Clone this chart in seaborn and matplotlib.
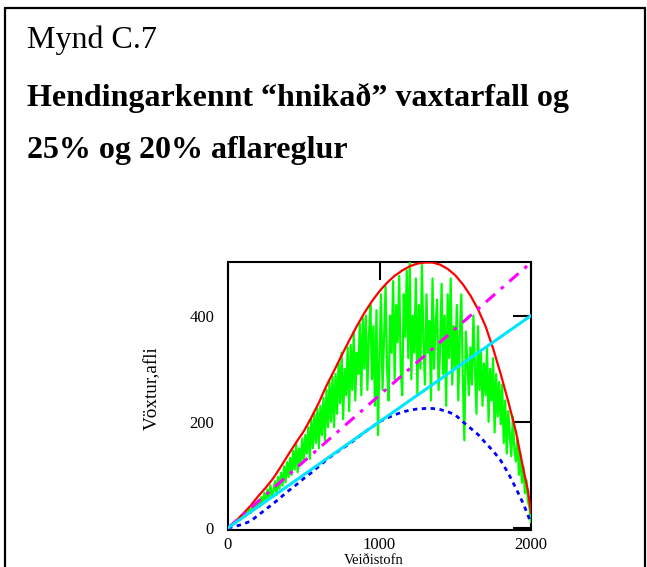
import numpy as np
import pandas as pd
import matplotlib
matplotlib.use("Agg")
import matplotlib.pyplot as plt
from matplotlib.lines import Line2D
import seaborn as sns

# Stock grid for the smooth curves
stock = [0, 50, 100, 150, 200, 250, 300, 350, 400, 450, 500, 550, 600, 650, 700,
         750, 800, 850, 900, 950, 1000, 1050, 1100, 1150, 1200, 1250, 1300, 1350,
         1400, 1450, 1500, 1550, 1600, 1650, 1700, 1750, 1800, 1850, 1900, 1950,
         1980, 2000]

# Growth function (upper envelope)
growth_max = [0, 12, 27, 42, 60, 76, 94, 116, 139, 161, 182, 208, 236, 268, 296,
              325, 353, 380, 405, 427, 446, 462, 475, 485, 493, 498, 500, 500,
              496, 488, 476, 459, 438, 412, 380, 338, 290, 238, 182, 110,
              70, 28]

# Lower growth curve
growth_min = [0, 3, 7, 13, 24, 35, 46, 58, 70, 81, 93, 104, 116, 128, 139,
              149, 158, 169, 180, 190, 200, 207, 213, 218, 222, 224, 225, 225,
              223, 219, 213, 200, 188, 176, 160, 145, 127, 103, 75, 45,
              24, 8]

# Catch rules: 25% and 20% of stock
rule_stock = [0, 2000]
catch_25 = [0, 500]
catch_20 = [0, 400]

# Randomly perturbed growth, every 10 units of stock
noisy_stock = np.arange(0, 2001, 10)
noisy_growth = [
    0, 3, 4, 7, 8, 12, 11, 16, 15, 21,
    24, 20, 30, 26, 36, 28, 40, 34, 46, 38,
    52, 40, 58, 46, 66, 50, 72, 56, 80, 60,
    70, 88, 62, 96, 74, 104, 80, 116, 86, 124,
    96, 132, 100, 145, 110, 158, 105, 150, 120, 168,
    125, 175, 140, 190, 130, 205, 150, 215, 160, 225,
    150, 230, 175, 245, 165, 260, 190, 275, 200, 285,
    190, 290, 215, 310, 235, 330, 205, 300, 250, 340,
    220, 345, 260, 370, 240, 330, 290, 385, 250, 395,
    300, 400, 260, 360, 420, 280, 380, 230, 410, 175,
    320, 440, 260, 360, 455, 300, 240, 400, 330, 465,
    280, 420, 350, 475, 300, 250, 440, 360, 485, 320,
    500, 280, 400, 330, 470, 250, 420, 300, 495, 350,
    270, 440, 330, 390, 240, 470, 300, 380, 430, 260,
    340, 460, 290, 400, 230, 440, 320, 470, 270, 380,
    300, 420, 240, 360, 440, 280, 165, 370, 310, 250,
    340, 270, 400, 300, 215, 380, 260, 330, 230, 310,
    250, 340, 200, 300, 240, 320, 180, 290, 210, 275,
    195, 270, 160, 240, 140, 220, 175, 135, 210, 150,
    125, 170, 100, 140, 85, 115, 65, 90, 50, 38,
    10,
]

x_ticks = [0, 1000, 2000]
y_ticks = [0, 200, 400]

sns.set_theme(style="white")
plt.rcParams["font.family"] = ["Liberation Serif", "DejaVu Serif"]
plt.rcParams["text.color"] = "black"
plt.rcParams["axes.labelcolor"] = "black"
plt.rcParams["xtick.color"] = "black"
plt.rcParams["ytick.color"] = "black"

fig = plt.figure(figsize=(6.47, 5.67), dpi=100)
W, H = 647, 567
ax = fig.add_axes([228 / W, (H - 530) / H, 303 / W, 268 / H])

sns.lineplot(x=noisy_stock, y=noisy_growth, ax=ax, color="#00ff00",
             linewidth=1.6, sort=False, estimator=None, zorder=3)
sns.lineplot(x=stock, y=growth_max, ax=ax, color="#ff0000",
             linewidth=1.6, sort=False, estimator=None, zorder=4)
sns.lineplot(x=stock, y=growth_min, ax=ax, color="#0000ff",
             linewidth=2.0, linestyle=(0, (1.6, 1.6)), sort=False,
             estimator=None, zorder=4)
sns.lineplot(x=rule_stock, y=catch_25, ax=ax, color="#ff00ff",
             linewidth=2.2, linestyle=(0, (4.0, 2.5, 1.2, 2.5)), sort=False,
             estimator=None, zorder=5)
sns.lineplot(x=rule_stock, y=catch_20, ax=ax, color="#00e5ff",
             linewidth=2.2, sort=False, estimator=None, zorder=5)

ax.set_xlim(0, 2000)
ax.set_ylim(-4, 501)
ax.set_xticks(x_ticks)
ax.set_yticks(y_ticks)
ax.tick_params(direction="in", length=13, width=1.5, colors="black",
               labelcolor="black", labelsize=12, top=True, right=True,
               labeltop=False, labelright=False)
ax.tick_params(axis="x", pad=5)
ax.tick_params(axis="y", pad=10)
for side in ax.spines.values():
    side.set_color("black")
    side.set_linewidth(1.5)

ax.set_ylabel("Vöxtur,afli", fontsize=13.8)
ax.yaxis.set_label_coords(-0.221, 0.53)
ax.set_xlabel("Veiðistofn", fontsize=10.5)
ax.xaxis.set_label_coords(0.48, -0.089)

# Headings
fig.text(27 / W, (H - 48) / H, "Mynd C.7", fontsize=23, ha="left",
         va="baseline")
fig.text(27 / W, (H - 106) / H, "Hendingarkennt “hnikað” vaxtarfall og",
         fontsize=23, fontweight="bold", ha="left", va="baseline")
fig.text(27 / W, (H - 158) / H, "25% og 20% aflareglur",
         fontsize=23, fontweight="bold", ha="left", va="baseline")

# Border around the figure box
for xs, ys in [([5, 5], [8, 580]), ([645, 645], [8, 580]), ([5, 645], [8, 8])]:
    fig.add_artist(Line2D([x / W for x in xs], [(H - y) / H for y in ys],
                          transform=fig.transFigure, color="black",
                          linewidth=1.6))

fig.savefig("out.png", dpi=100)
